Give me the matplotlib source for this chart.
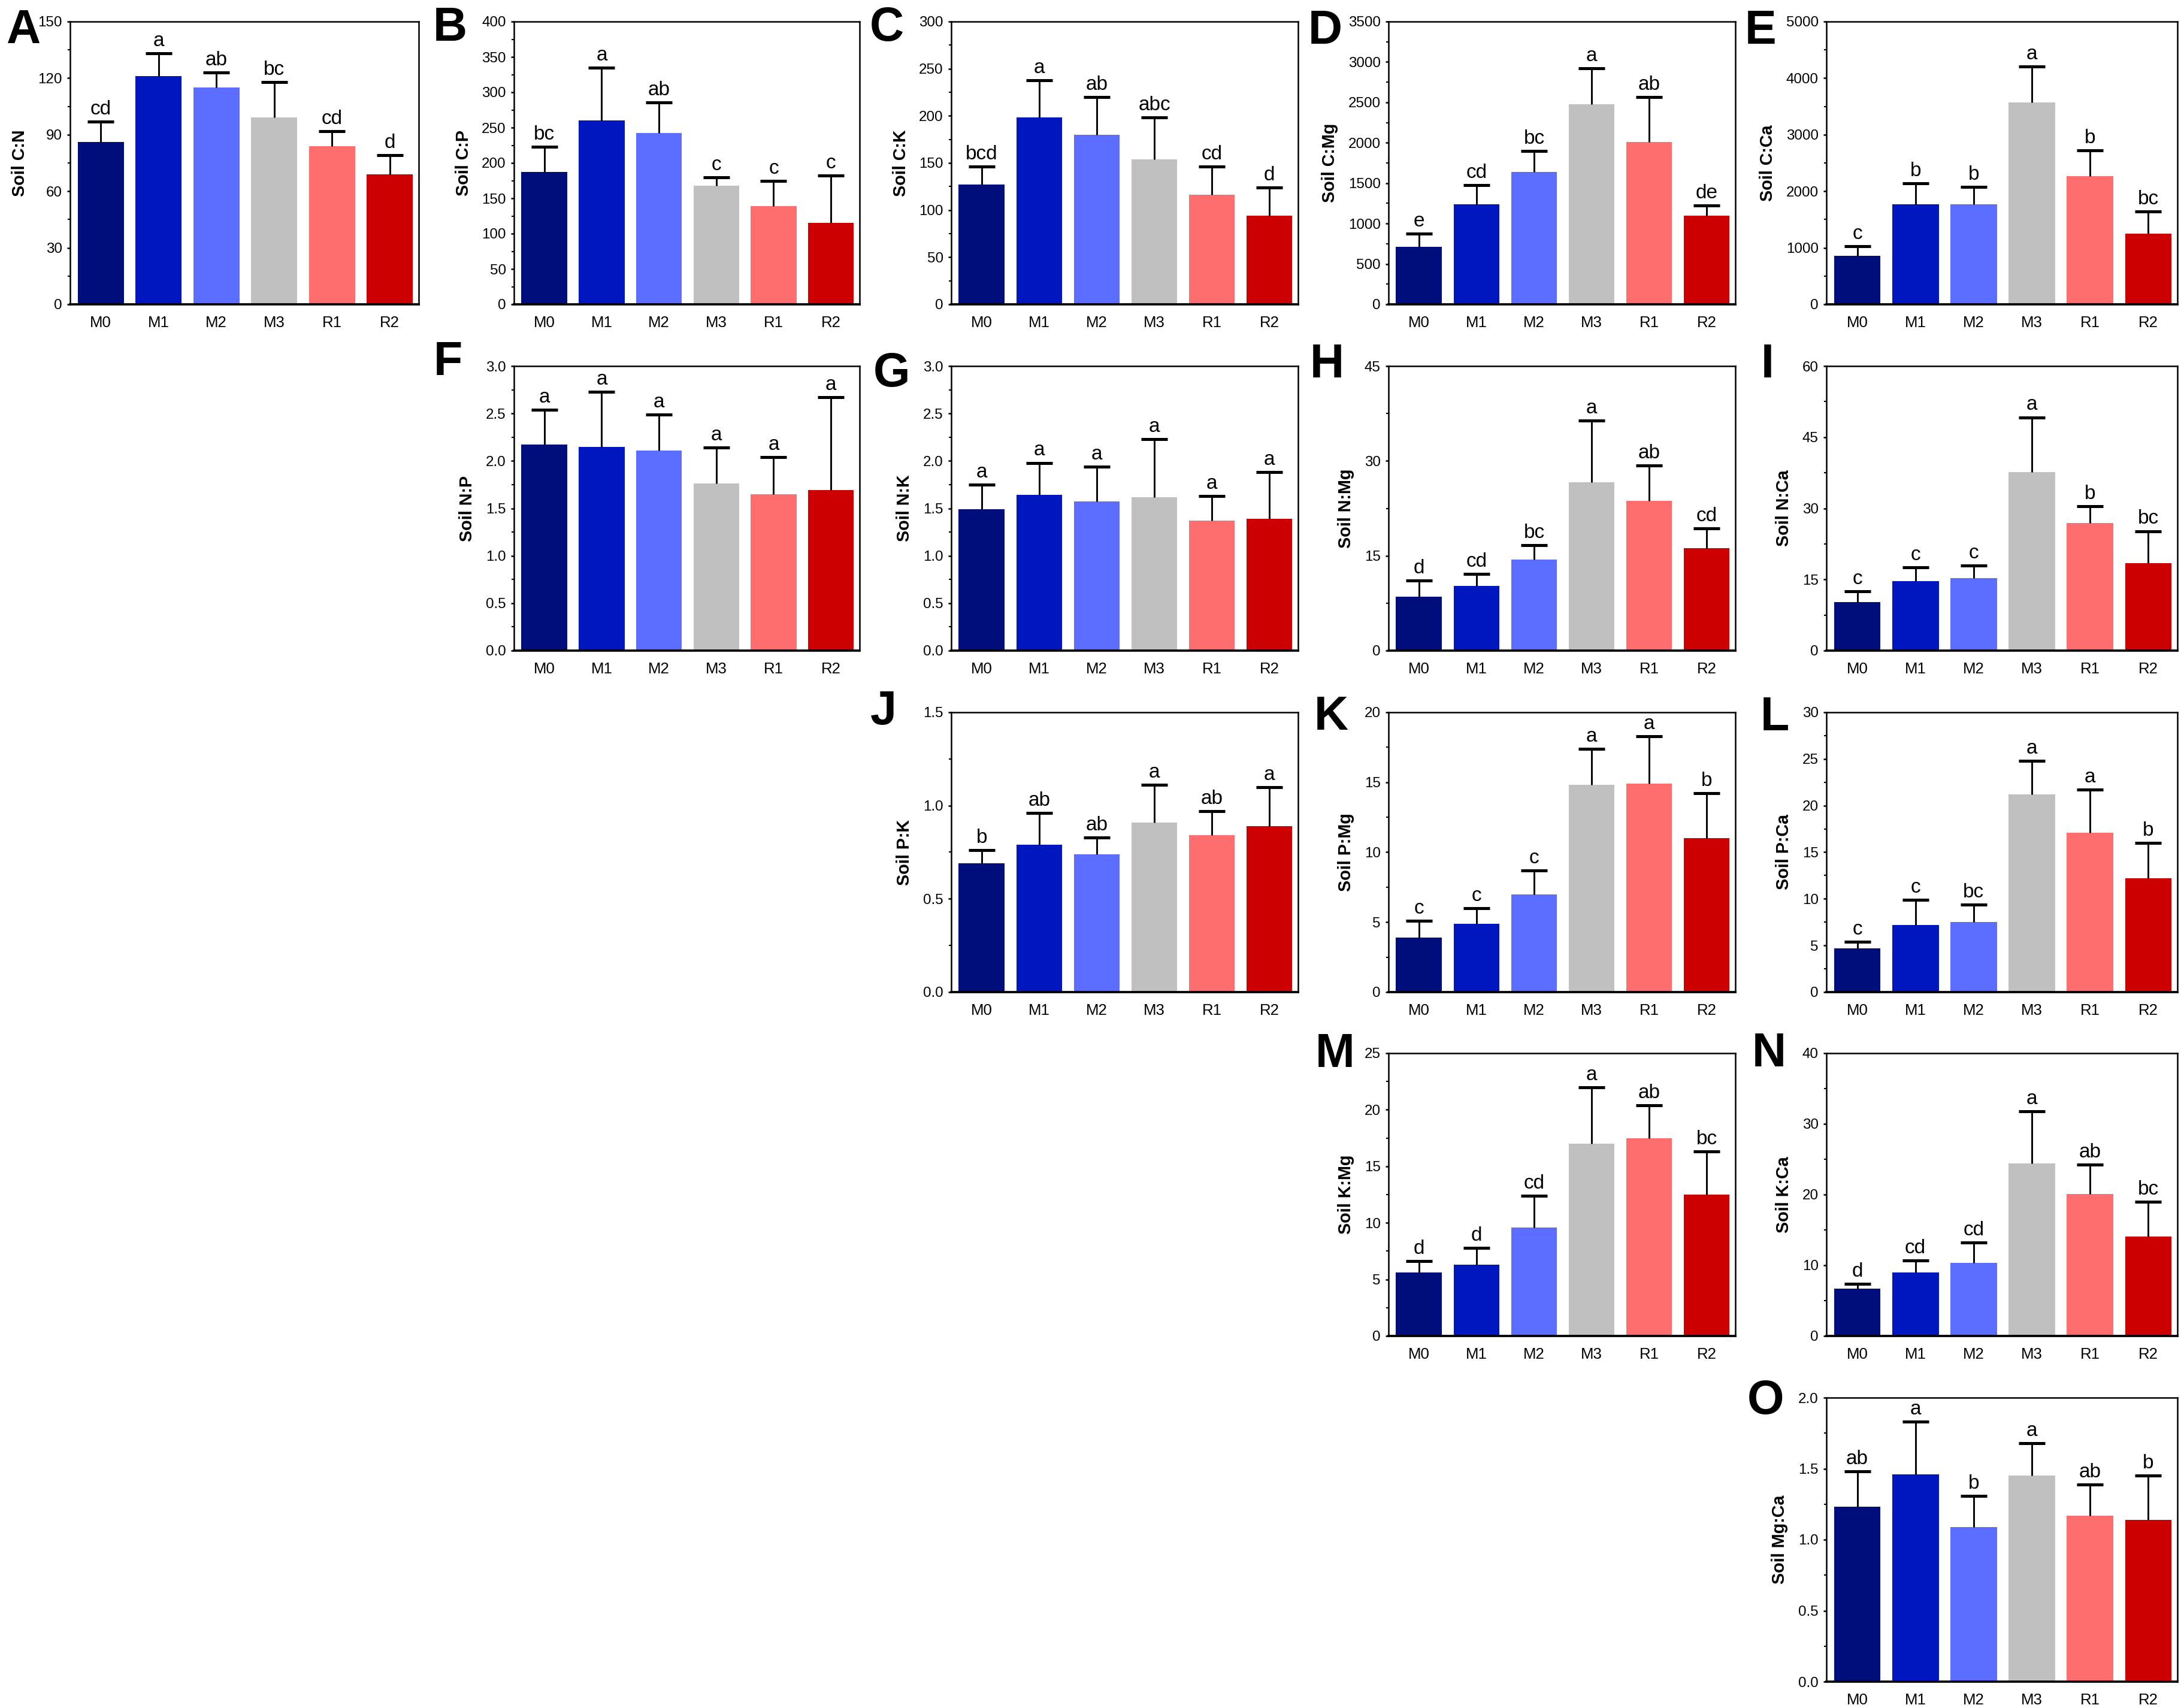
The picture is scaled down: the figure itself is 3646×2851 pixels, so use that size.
import numpy as np
import matplotlib
matplotlib.use('Agg')
import matplotlib.pyplot as plt
from matplotlib.ticker import MultipleLocator, AutoMinorLocator

plt.rcParams['font.family'] = ['Liberation Sans', 'DejaVu Sans']

tratamientos = ['M0', 'M1', 'M2', 'M3', 'R1', 'R2']
colores = ['#000E7B', '#0016BE', '#5C6EFF', '#C0C0C0', '#FF6E6E', '#CC0000']

# Medias, desviaciones (solo hacia arriba) y letras de significancia
cn_media = [86, 121, 115, 99, 84, 69]
cn_de = [11, 12, 8, 19, 8, 10]
cn_letras = ['cd', 'a', 'ab', 'bc', 'cd', 'd']

cp_media = [187, 260, 242, 168, 139, 115]
cp_de = [36, 75, 44, 12, 36, 67]
cp_letras = ['bc', 'a', 'ab', 'c', 'c', 'c']

ck_media = [127, 198, 180, 154, 116, 94]
ck_de = [19, 40, 40, 44, 30, 30]
ck_letras = ['bcd', 'a', 'ab', 'abc', 'cd', 'd']

cmg_media = [715, 1235, 1638, 2480, 2008, 1095]
cmg_de = [160, 242, 262, 438, 561, 130]
cmg_letras = ['e', 'cd', 'bc', 'a', 'ab', 'de']

cca_media = [860, 1765, 1765, 3575, 2272, 1245]
cca_de = [165, 375, 312, 632, 455, 400]
cca_letras = ['c', 'b', 'b', 'a', 'b', 'bc']

np_media = [2.17, 2.15, 2.11, 1.76, 1.65, 1.69]
np_de = [0.37, 0.58, 0.38, 0.38, 0.39, 0.98]
np_letras = ['a', 'a', 'a', 'a', 'a', 'a']

nk_media = [1.49, 1.64, 1.57, 1.62, 1.37, 1.39]
nk_de = [0.26, 0.34, 0.37, 0.61, 0.26, 0.49]
nk_letras = ['a', 'a', 'a', 'a', 'a', 'a']

nmg_media = [8.5, 10.2, 14.4, 26.6, 23.7, 16.2]
nmg_de = [2.6, 1.9, 2.3, 9.8, 5.6, 3.1]
nmg_letras = ['d', 'cd', 'bc', 'a', 'ab', 'cd']

nca_media = [10.2, 14.6, 15.3, 37.6, 26.9, 18.5]
nca_de = [2.3, 3.0, 2.6, 11.6, 3.6, 6.7]
nca_letras = ['c', 'c', 'c', 'a', 'b', 'bc']

pk_media = [0.69, 0.79, 0.74, 0.91, 0.84, 0.89]
pk_de = [0.07, 0.17, 0.09, 0.20, 0.13, 0.21]
pk_letras = ['b', 'ab', 'ab', 'a', 'ab', 'a']

pmg_media = [3.9, 4.9, 7.0, 14.8, 14.9, 11.0]
pmg_de = [1.2, 1.1, 1.7, 2.6, 3.4, 3.2]
pmg_letras = ['c', 'c', 'c', 'a', 'a', 'b']

pca_media = [4.7, 7.2, 7.5, 21.2, 17.1, 12.2]
pca_de = [0.7, 2.7, 1.9, 3.6, 4.6, 3.8]
pca_letras = ['c', 'c', 'bc', 'a', 'a', 'b']

kmg_media = [5.6, 6.3, 9.6, 17.0, 17.5, 12.5]
kmg_de = [1.0, 1.5, 2.8, 5.0, 2.9, 3.8]
kmg_letras = ['d', 'd', 'cd', 'a', 'ab', 'bc']

kca_media = [6.7, 9.0, 10.3, 24.4, 20.1, 14.1]
kca_de = [0.7, 1.7, 2.9, 7.4, 4.1, 4.9]
kca_letras = ['d', 'cd', 'cd', 'a', 'ab', 'bc']

mgca_media = [1.23, 1.46, 1.09, 1.45, 1.17, 1.14]
mgca_de = [0.25, 0.37, 0.22, 0.23, 0.22, 0.31]
mgca_letras = ['ab', 'a', 'b', 'a', 'ab', 'b']

# (letra, etiqueta, medias, de, letras, ymax, paso, fila, columna)
paneles = [
    ('A', 'Soil C:N', cn_media, cn_de, cn_letras, 150, 30, 0, 0),
    ('B', 'Soil C:P', cp_media, cp_de, cp_letras, 400, 50, 0, 1),
    ('C', 'Soil C:K', ck_media, ck_de, ck_letras, 300, 50, 0, 2),
    ('D', 'Soil C:Mg', cmg_media, cmg_de, cmg_letras, 3500, 500, 0, 3),
    ('E', 'Soil C:Ca', cca_media, cca_de, cca_letras, 5000, 1000, 0, 4),
    ('F', 'Soil N:P', np_media, np_de, np_letras, 3.0, 0.5, 1, 1),
    ('G', 'Soil N:K', nk_media, nk_de, nk_letras, 3.0, 0.5, 1, 2),
    ('H', 'Soil N:Mg', nmg_media, nmg_de, nmg_letras, 45, 15, 1, 3),
    ('I', 'Soil N:Ca', nca_media, nca_de, nca_letras, 60, 15, 1, 4),
    ('J', 'Soil P:K', pk_media, pk_de, pk_letras, 1.5, 0.5, 2, 2),
    ('K', 'Soil P:Mg', pmg_media, pmg_de, pmg_letras, 20, 5, 2, 3),
    ('L', 'Soil P:Ca', pca_media, pca_de, pca_letras, 30, 5, 2, 4),
    ('M', 'Soil K:Mg', kmg_media, kmg_de, kmg_letras, 25, 5, 3, 3),
    ('N', 'Soil K:Ca', kca_media, kca_de, kca_letras, 40, 10, 3, 4),
    ('O', 'Soil Mg:Ca', mgca_media, mgca_de, mgca_letras, 2.0, 0.5, 4, 4),
]

# posiciones de la rejilla en pixeles de la imagen final
W, H = 3646, 2851
columnas = [(117, 699), (858, 1435), (1588, 2167), (2318, 2897), (3049, 3635)]
filas = [(36, 508), (611, 1086), (1189, 1656), (1758, 2230), (2333, 2807)]
# desplazamiento de la letra del panel (px a la izquierda, px arriba)
desp_letra = {'A': (50, 22), 'B': (78, 26), 'C': (79, 26), 'D': (77, 21), 'E': (84, 21),
              'F': (86, 43), 'G': (69, 24), 'H': (74, 39), 'I': (87, 39),
              'J': (91, 38), 'K': (67, 29), 'L': (62, 28),
              'M': (57, 35), 'N': (67, 36), 'O': (71, 31)}

fig = plt.figure(figsize=(W / 300, H / 300), dpi=300)
x = np.arange(len(tratamientos))

for letra, etiqueta, medias, de, letras, ymax, paso, fi, co in paneles:
    l, r = columnas[co]
    t, b = filas[fi]
    ax = fig.add_axes([l / W, 1 - b / H, (r - l) / W, (b - t) / H])

    ax.bar(x, medias, width=0.8, color=colores, zorder=2)
    eb = ax.errorbar(x, medias, yerr=[np.zeros(len(de)), de], fmt='none', ecolor='black',
                     elinewidth=0.7, capsize=5.2, capthick=1.2, zorder=3)
    eb[1][0].set_visible(False)  # sin tapa inferior

    for xi, m, d, s in zip(x, medias, de, letras):
        ax.annotate(s, (xi, m + d), xytext=(0, 1.2), textcoords='offset points',
                    ha='center', va='bottom', fontsize=8)

    ax.set_xlim(-0.53, 5.5)
    ax.set_ylim(0, ymax)
    ax.yaxis.set_major_locator(MultipleLocator(paso))
    ax.yaxis.set_minor_locator(AutoMinorLocator(2))
    ax.set_xticks(x)
    ax.set_xticklabels(tratamientos, fontsize=6.2)
    ax.tick_params(axis='x', length=0, pad=4.6)
    ax.tick_params(axis='y', which='major', direction='out', length=1.3, width=0.6,
                   pad=1.9, labelsize=5.8)
    ax.tick_params(axis='y', which='minor', direction='out', length=0.9, width=0.5)
    ax.set_ylabel(etiqueta, fontsize=6.9, fontweight='bold', labelpad=4)

    for lado in ['top', 'left', 'right']:
        ax.spines[lado].set_linewidth(0.6)
    ax.spines['bottom'].set_linewidth(0.9)

    dx, dy = desp_letra[letra]
    fig.text((l - dx) / W, 1 - (t - dy) / H, letra, ha='right', va='top',
             fontsize=19, fontweight='bold')

fig.savefig('out.png', dpi=300, facecolor='white')
